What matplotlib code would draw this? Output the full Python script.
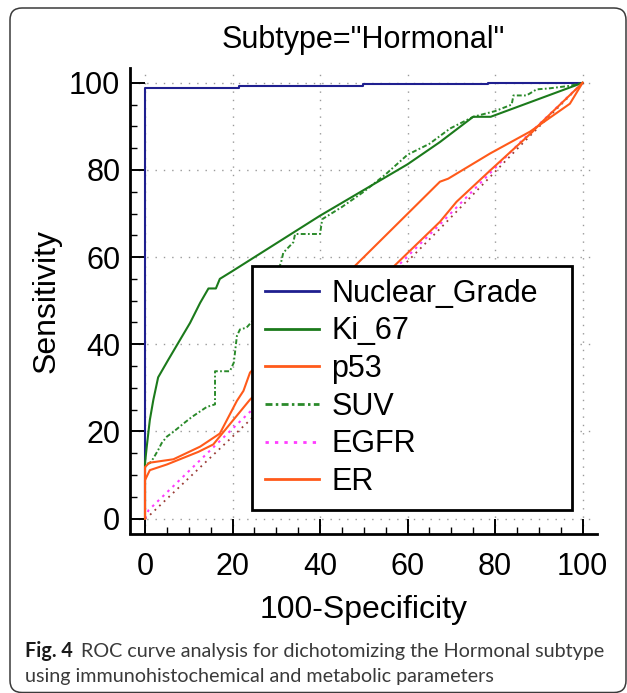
import matplotlib
matplotlib.use('Agg')
import matplotlib.pyplot as plt
from matplotlib.patches import FancyBboxPatch
from matplotlib.transforms import IdentityTransform
from matplotlib.ticker import MultipleLocator

# ---------------- data ----------------
title = 'Subtype="Hormonal"'
xlabel = '100-Specificity'
ylabel = 'Sensitivity'
series_names = ['Nuclear_Grade', 'Ki_67', 'p53', 'SUV', 'EGFR', 'ER']

nuclear_x = [0, 0, 21.5, 21.5, 49.8, 49.8, 78.4, 78.4, 100]
nuclear_y = [0, 98.8, 98.8, 99.3, 99.3, 99.7, 99.7, 100, 100]

ki67_x = [0, 0, 0.4, 1.1, 1.9, 3.0, 5.3, 8.0, 10.3, 12.6, 14.5, 16.2, 17.1, 20.0, 40.0, 60.0, 67.4, 75.0, 79.0, 100]
ki67_y = [0, 12.7, 16.5, 22.6, 27.2, 32.4, 36.4, 41.0, 44.9, 49.5, 52.8, 52.8, 55.0, 56.8, 69.5, 81.3, 86.4, 92.2, 92.2, 100]

p53_x = [0, 0, 1.0, 6.5, 12.6, 17.1, 21.0, 22.5, 24.0, 48.0, 67.4, 69.3, 78.9, 88.0, 97.1, 100]
p53_y = [0, 11.8, 12.8, 13.6, 16.5, 19.5, 27.0, 29.3, 33.5, 58.0, 77.3, 78.0, 83.8, 88.8, 95.2, 100]

suv_x = [0, 0, 1.1, 1.9, 3.0, 3.8, 5.0, 6.5, 8.8, 10.7, 14.1, 16.0, 16.0, 19.4, 20.3, 21.0, 21.7, 23.2, 26.0,
         28.0, 30.5, 31.2, 31.6, 33.9, 34.3, 40.0, 40.5, 45.0, 50.0, 55.0, 60.0, 65.0, 69.7, 75.0, 80.0,
         83.8, 84.2, 87.2, 89.5, 92.2, 97.0, 100]
suv_y = [0, 12.5, 12.7, 13.8, 15.7, 17.3, 18.8, 19.9, 21.8, 23.3, 25.6, 26.2, 33.8, 33.8, 35.8, 41.9, 43.4, 43.8, 47.0,
         52.0, 57.0, 59.2, 61.0, 63.4, 65.3, 65.3, 68.7, 71.5, 75.0, 79.0, 83.5, 86.0, 89.5, 92.2, 93.5,
         95.0, 97.1, 97.1, 98.5, 98.7, 99.3, 100]

egfr_x = [0, 0.8, 24.0, 67.4, 85.7, 100]
egfr_y = [0, 1.9, 24.5, 67.5, 86.3, 100]

er_x = [0, 0, 1.1, 5.0, 12.2, 15.6, 24.0, 57.0, 67.4, 71.2, 78.9, 88.5, 90.3, 99.4, 100]
er_y = [0, 8.8, 11.1, 12.4, 15.3, 17.0, 27.3, 58.0, 68.1, 72.7, 79.9, 88.7, 90.6, 99.4, 100]

ref_x = [0, 1.1, 24.0, 67.4, 85.7, 100]
ref_y = [0, 0.8, 22.6, 66.5, 85.5, 100]

caption_bold = 'Fig. 4'
caption_line1 = 'ROC curve analysis for dichotomizing the Hormonal subtype'
caption_line2 = 'using immunohistochemical and metabolic parameters'

# ---------------- styling ----------------
W, H = 627, 693
plt.rcParams['font.family'] = ['Liberation Sans', 'DejaVu Sans']
fig = plt.figure(figsize=(W / 100, H / 100), dpi=100)
fig.patch.set_facecolor('white')

ax_left, ax_right, ax_top, ax_bottom = 130, 597, 68, 533.5
ax = fig.add_axes([ax_left / W, (H - ax_bottom) / H, (ax_right - ax_left) / W, (ax_bottom - ax_top) / H])

BLUE = '#1f1f8f'
GREEN = '#1b7a1b'
SUVG = '#2a8a2a'
ORANGE = '#ff5a1a'
MAGENTA = '#ff3cff'
BROWN = '#9a3b35'
lw = 1.5

ax.plot(nuclear_x, nuclear_y, color=BLUE, lw=lw, label=series_names[0], zorder=3)
ax.plot(ref_x, ref_y, color=BROWN, lw=1.3, linestyle=(0, (1, 2.5)), zorder=2)
ax.plot(egfr_x, egfr_y, color=MAGENTA, lw=1.5, linestyle=(0, (1.2, 2.2)), label=series_names[4], zorder=3)
ax.plot(suv_x, suv_y, color=SUVG, lw=1.4, linestyle=(0, (2.5, 1.2, 0.9, 1.2)), label=series_names[3], zorder=3)
ax.plot(ki67_x, ki67_y, color=GREEN, lw=lw, label=series_names[1], zorder=4)
ax.plot(er_x, er_y, color=ORANGE, lw=lw, label=series_names[5], zorder=4)
ax.plot(p53_x, p53_y, color=ORANGE, lw=lw, label=series_names[2], zorder=4)

ax.set_xlim(-3.43, 103.3)
ax.set_ylim(-3.44, 103.4)
for s in ['top', 'right']:
    ax.spines[s].set_visible(False)
for s in ['left', 'bottom']:
    ax.spines[s].set_linewidth(2.0)

ax.xaxis.set_major_locator(MultipleLocator(20))
ax.yaxis.set_major_locator(MultipleLocator(20))
ax.xaxis.set_minor_locator(MultipleLocator(5))
ax.yaxis.set_minor_locator(MultipleLocator(5))
ax.tick_params(which='major', direction='in', length=11, width=1.4, labelsize=22)
ax.tick_params(which='minor', direction='in', length=5, width=1.0)
ax.tick_params(axis='x', which='major', pad=13)
ax.tick_params(axis='y', which='major', pad=7)

ax.grid(True, which='major', color='#9a9a9a', linestyle=(0, (1, 5)), lw=1.0, zorder=0)

ax.set_title(title, fontsize=22, pad=14.2)
ax.set_xlabel(xlabel, fontsize=23)
ax.set_ylabel(ylabel, fontsize=23)
ax.xaxis.set_label_coords(0.5, (ax_bottom - 595) / (ax_bottom - ax_top))
ax.yaxis.set_label_coords((62 - ax_left) / (ax_right - ax_left), 0.5)

handles, labels = ax.get_legend_handles_labels()
order = [labels.index(n) for n in series_names]
lx0 = (252 - ax_left) / (ax_right - ax_left)
lw_ = (572 - 252) / (ax_right - ax_left)
ly0 = (ax_bottom - 510) / (ax_bottom - ax_top)
lh = (510 - 266) / (ax_bottom - ax_top)
leg = ax.legend([handles[i] for i in order], [labels[i] for i in order],
                loc='upper left', bbox_to_anchor=(lx0, ly0, lw_, lh), bbox_transform=ax.transAxes,
                mode='expand', borderaxespad=0, fontsize=22, frameon=True, fancybox=False,
                framealpha=1, edgecolor='black', handlelength=1.76, handletextpad=0.42,
                labelspacing=0.25, borderpad=0.42)
leg.get_frame().set_linewidth(2.0)
for h in leg.get_lines():
    h.set_linewidth(2.0)
leg.set_zorder(10)

# ---------------- outer rounded frame ----------------
frame = FancyBboxPatch((10, 0.5), 616, 684.5, boxstyle='round,pad=0,rounding_size=12',
                       transform=IdentityTransform(), fill=False, edgecolor='#3a3a3a', lw=1.1)
fig.patches.append(frame)

# ---------------- caption ----------------
cap_font = ['Lato', 'DejaVu Sans']
renderer = fig.canvas.get_renderer()
s0 = 13.0
tb = fig.text(25 / W, 1 - 657 / H, caption_bold, fontsize=s0, fontweight='bold', family=cap_font,
              color='#1a1a1a', va='baseline', ha='left')
tr = fig.text(0, 1 - 657 / H, caption_line1, fontsize=s0, family=cap_font, color='#3a3a3a',
              va='baseline', ha='left')
t2 = fig.text(25 / W, 1 - 682 / H, caption_line2, fontsize=s0, family=cap_font, color='#3a3a3a',
              va='baseline', ha='left')
wb0 = tb.get_window_extent(renderer).width
wr0 = tr.get_window_extent(renderer).width
gap = 8
s = s0 * (577 - gap) / (wb0 + wr0)
for t in (tb, tr, t2):
    t.set_fontsize(s)
wb = tb.get_window_extent(renderer).width
tr.set_x((25 + wb + gap) / W)

fig.savefig('out.png', dpi=100, facecolor='white')
